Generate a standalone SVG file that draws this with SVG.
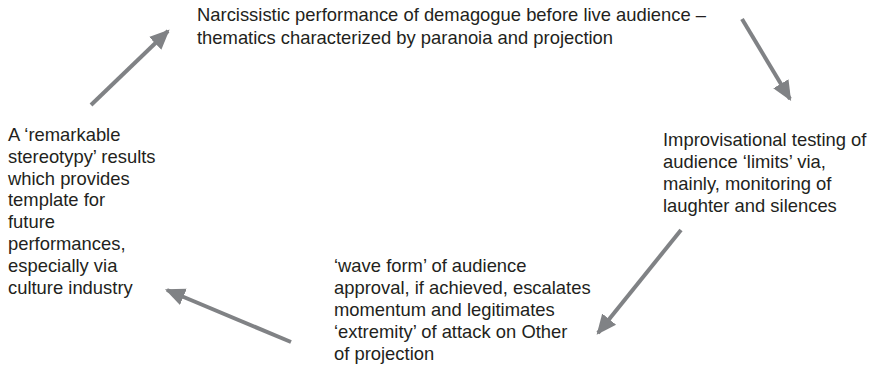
<svg xmlns="http://www.w3.org/2000/svg" width="873" height="369" viewBox="0 0 873 369">
<defs>
<style>
text{font-family:"Liberation Sans",Arial,Helvetica,sans-serif;font-size:18.4px;fill:#231f20}
.c{stroke:#808285;stroke-width:4;fill:none}
</style>
<marker id="ah" markerUnits="userSpaceOnUse" markerWidth="20" markerHeight="20" viewBox="0 0 18 16" refX="16" refY="8" orient="auto">
<path d="M0,0 L18,8 L0,16 Z" fill="#808285"/>
</marker>
</defs>
<rect width="873" height="369" fill="#fff"/>
<g id="n1"><text x="197" y="21">Narcissistic performance of demagogue before live audience –</text><text x="197" y="44">thematics characterized by paranoia and projection</text></g>
<g id="n2"><text x="663" y="146">Improvisational testing of</text><text x="663" y="168">audience ‘limits’ via,</text><text x="663" y="190">mainly, monitoring of</text><text x="663" y="212">laughter and silences</text></g>
<g id="n3"><text x="334" y="272">‘wave form’ of audience</text><text x="334" y="294">approval, if achieved, escalates</text><text x="334" y="316">momentum and legitimates</text><text x="334" y="338">‘extremity’ of attack on Other</text><text x="334" y="360">of projection</text></g>
<g id="n4"><text x="8" y="141">A ‘remarkable</text><text x="8" y="162.8">stereotypy’ results</text><text x="8" y="184.6">which provides</text><text x="8" y="206.4">template for</text><text x="8" y="228.2">future</text><text x="8" y="250">performances,</text><text x="8" y="271.8">especially via</text><text x="8" y="293.6">culture industry</text></g>
<g id="connectors">
<line class="c" x1="91" y1="105" x2="168" y2="31" marker-end="url(#ah)"/>
<line class="c" x1="742" y1="19" x2="790" y2="99" marker-end="url(#ah)"/>
<line class="c" x1="681" y1="230" x2="598" y2="333" marker-end="url(#ah)"/>
<line class="c" x1="291" y1="342" x2="167" y2="290" marker-end="url(#ah)"/>
</g>
</svg>
